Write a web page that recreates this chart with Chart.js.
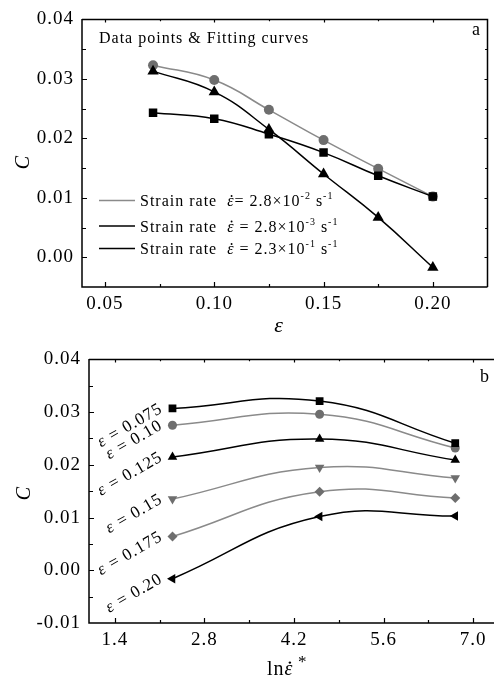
<!DOCTYPE html>
<html>
<head>
<meta charset="utf-8">
<script src="https://cdn.jsdelivr.net/npm/chart.js@4.4.1/dist/chart.umd.min.js"></script>
<style>
  html, body { margin: 0; padding: 0; background: #fff; }
  #wrap { position: relative; width: 494px; height: 680px; }
  .box { position: absolute; left: 0; width: 494px; height: 340px; }
  #boxA { top: 0; }
  #boxB { top: 340px; }
</style>
</head>
<body>
<div id="wrap">
  <div class="box" id="boxA"><canvas id="chartA"></canvas></div>
  <div class="box" id="boxB"><canvas id="chartB"></canvas></div>
</div>
<script>
// ---------- panel a : C against strain, one curve per strain rate ----------
const strainA = [0.072, 0.10, 0.125, 0.15, 0.175, 0.20];
const cRate28e3 = [0.0313, 0.0278, 0.0215, 0.0140, 0.0067, -0.0017]; // triangles
const cRate28e2 = [0.0323, 0.0298, 0.0248, 0.0197, 0.0149, 0.0102];  // circles
const cRate23e1 = [0.0243, 0.0233, 0.0207, 0.0176, 0.0137, 0.0102];  // squares
const xTicksA = [0.05, 0.10, 0.15, 0.20];
const xTickLabelsA = ['0.05', '0.10', '0.15', '0.20'];
const yTicksA = [0, 0.01, 0.02, 0.03, 0.04];
const yTickLabelsA = ['0.00', '0.01', '0.02', '0.03', '0.04'];
const legendRatesA = [['2.8×10', '-2'], ['2.8×10', '-3'], ['2.3×10', '-1']];

// ---------- panel b : C against ln(strain rate*), one curve per strain ----------
const lnRateB = [2.3, 4.6, 6.72];
const strainLabelsB = ['0.075', '0.10', '0.125', '0.15', '0.175', '0.20'];
const cEps075 = [0.0307, 0.0321, 0.0241];
const cEps100 = [0.0275, 0.0296, 0.0232];
const cEps125 = [0.0215, 0.0249, 0.0209];
const cEps150 = [0.0135, 0.0195, 0.0175];
const cEps175 = [0.0064, 0.0149, 0.0137];
const cEps200 = [-0.0016, 0.0102, 0.0103];
const xTicksB = [1.4, 2.8, 4.2, 5.6, 7.0];
const xTickLabelsB = ['1.4', '2.8', '4.2', '5.6', '7.0'];
const yTicksB = [-0.01, 0, 0.01, 0.02, 0.03, 0.04];
const yTickLabelsB = ['-0.01', '0.00', '0.01', '0.02', '0.03', '0.04'];

const SERIF = "'Liberation Serif', 'Times New Roman', serif";
const GRAY_LINE = '#8a8a8a';
const GRAY_MARK = '#6e6e6e';

// draw a run of text pieces (italic / superscript / dotted epsilon)
function drawRich(ctx, parts, x, y, size, align) {
  const fontOf = p => (p.it ? 'italic ' : '') + (p.sup ? Math.round(size * 0.62) : size) + 'px ' + SERIF;
  let total = 0;
  const widths = parts.map(p => {
    ctx.font = fontOf(p);
    const w = ctx.measureText(p.t).width;
    total += w;
    return w;
  });
  let cx = align === 'right' ? x - total : align === 'center' ? x - total / 2 : x;
  ctx.textAlign = 'left';
  ctx.textBaseline = 'alphabetic';
  parts.forEach((p, i) => {
    ctx.font = fontOf(p);
    ctx.fillText(p.t, cx, p.sup ? y - size * 0.42 : y);
    if (p.dot) {
      ctx.beginPath();
      ctx.arc(cx + widths[i] * 0.6, y - size * 0.62, size * 0.06, 0, Math.PI * 2);
      ctx.fill();
    }
    cx += widths[i];
  });
}

function minorOf(majors, min, max) {
  const step = majors[1] - majors[0];
  const out = [];
  for (let v = majors[0] - step / 2; v < max - 1e-9; v += step) {
    if (v > min + 1e-9) out.push(v);
  }
  return out;
}

function xy(xs, ys) {
  return xs.map((x, i) => ({ x: x, y: ys[i] }));
}

function series(label, xs, ys, line, mark, style, r, rot) {
  return {
    label: label,
    data: xy(xs, ys),
    borderColor: line,
    borderWidth: 1.5,
    backgroundColor: mark,
    pointBackgroundColor: mark,
    pointBorderColor: mark,
    pointBorderWidth: 0,
    pointStyle: style,
    pointRadius: r,
    pointRotation: rot || 0,
    tension: 0.45,
    fill: false
  };
}

// frame with inward ticks on every side, plus the panel's own texts
function framePlugin(cfg) {
  return {
    id: 'frame',
    beforeDraw(chart) {
      chart.ctx.letterSpacing = '1px';
    },
    afterDraw(chart) {
      const { ctx, chartArea: a, scales: { x, y } } = chart;
      ctx.save();
      ctx.letterSpacing = '1px';
      ctx.strokeStyle = '#000';
      ctx.fillStyle = '#000';
      ctx.lineWidth = 1.5;
      ctx.beginPath();
      ctx.moveTo(a.left, a.top - 0.5);
      ctx.lineTo(a.left, a.bottom);
      ctx.lineTo(cfg.right ? a.right : chart.width, a.bottom);
      ctx.moveTo(a.left, a.top);
      ctx.lineTo(cfg.right ? a.right : chart.width, a.top);
      if (cfg.right) ctx.lineTo(a.right, a.bottom);
      ctx.stroke();

      ctx.lineWidth = 1.2;
      ctx.beginPath();
      const tick = (vals, len) => {
        vals.forEach(v => {
          const px = Math.round(x.getPixelForValue(v)) + 0.5;
          if (px <= a.left + 1 || px >= a.right - 1) return;
          ctx.moveTo(px, a.bottom); ctx.lineTo(px, a.bottom - len);
          ctx.moveTo(px, a.top); ctx.lineTo(px, a.top + len * 0.6);
        });
      };
      const tickY = (vals, len) => {
        vals.forEach(v => {
          const py = Math.round(y.getPixelForValue(v)) + 0.5;
          if (py <= a.top + 1 || py >= a.bottom - 1) return;
          ctx.moveTo(a.left, py); ctx.lineTo(a.left + len, py);
          if (cfg.right) { ctx.moveTo(a.right, py); ctx.lineTo(a.right - len * 0.6, py); }
        });
      };
      tick(cfg.xMajor, 5);
      tick(minorOf(cfg.xMajor, x.min, x.max), 3);
      tickY(cfg.yMajor, 5);
      tickY(minorOf(cfg.yMajor, y.min, y.max), 4);
      ctx.stroke();

      cfg.texts(ctx, chart);
      ctx.restore();
    }
  };
}

function baseOptions(p) {
  return {
    responsive: true,
    maintainAspectRatio: false,
    animation: false,
    events: [],
    layout: { padding: { top: p.padTop, right: p.padRight, left: 0, bottom: 0 } },
    plugins: { legend: { display: false }, tooltip: { enabled: false } },
    scales: {
      x: {
        type: 'linear',
        min: p.xMin,
        max: p.xMax,
        grid: { display: false, drawTicks: false },
        border: { display: false },
        afterBuildTicks: s => { s.ticks = p.xTicks.map(v => ({ value: v })); },
        afterFit: s => { s.height = p.xHeight; },
        ticks: {
          autoSkip: false, maxRotation: 0, padding: 6, color: '#000',
          font: { family: SERIF, size: 19 },
          callback: (v, i) => p.xLabels[i]
        }
      },
      y: {
        type: 'linear',
        min: p.yMin,
        max: p.yMax,
        grid: { display: false, drawTicks: false },
        border: { display: false },
        afterBuildTicks: s => { s.ticks = p.yTicks.map(v => ({ value: v })); },
        afterFit: s => { s.width = p.yWidth; },
        ticks: {
          autoSkip: false, padding: 8, color: '#000',
          font: { family: SERIF, size: 19 },
          callback: (v, i) => p.yLabels[i]
        }
      }
    }
  };
}

// ---------- chart a ----------
new Chart(document.getElementById('chartA'), {
  type: 'line',
  data: {
    datasets: [
      series('2.8e-3', strainA, cRate28e3, '#000', '#000', 'triangle', 6.5),
      series('2.3e-1', strainA, cRate23e1, '#000', '#000', 'rect', 6),
      series('2.8e-2', strainA, cRate28e2, GRAY_LINE, GRAY_MARK, 'circle', 5)
    ]
  },
  options: baseOptions({
    xMin: 0.0395, xMax: 0.225, yMin: -0.005, yMax: 0.04,
    xTicks: xTicksA, xLabels: xTickLabelsA, yTicks: yTicksA, yLabels: yTickLabelsA,
    padTop: 16, padRight: 4, yWidth: 82, xHeight: 53
  }),
  plugins: [framePlugin({
    right: true, xMajor: xTicksA, yMajor: yTicksA,
    texts: (ctx) => {
      ctx.font = '16px ' + SERIF;
      ctx.textAlign = 'left';
      ctx.textBaseline = 'alphabetic';
      ctx.fillText('Data points & Fitting curves', 99, 43);
      ctx.font = '18px ' + SERIF;
      ctx.fillText('a', 472, 35);

      const rowY = [200.5, 226, 248.5];
      const rowColor = [GRAY_LINE, '#000', '#000'];
      legendRatesA.forEach((r, i) => {
        ctx.strokeStyle = rowColor[i];
        ctx.lineWidth = 1.5;
        ctx.beginPath();
        ctx.moveTo(99, rowY[i]);
        ctx.lineTo(135, rowY[i]);
        ctx.stroke();
        ctx.fillStyle = '#000';
        drawRich(ctx, [
          { t: 'Strain rate  ' },
          { t: 'ε', it: true, dot: true },
          { t: (i === 0 ? '= ' : ' = ') + r[0] },
          { t: r[1], sup: true },
          { t: ' s' },
          { t: '-1', sup: true }
        ], 140, rowY[i] + 5.5, 16, 'left');
      });

      ctx.save();
      ctx.translate(24, 162);
      ctx.rotate(-Math.PI / 2);
      ctx.font = 'italic 20px ' + SERIF;
      ctx.textAlign = 'center';
      ctx.textBaseline = 'middle';
      ctx.fillText('C', 0, 0);
      ctx.restore();

      ctx.font = 'italic 22px ' + SERIF;
      ctx.textAlign = 'center';
      ctx.fillText('ε', 279, 332);
    }
  })]
});

// ---------- chart b ----------
const seriesB = [
  series('0.075', lnRateB, cEps075, '#000', '#000', 'rect', 5.5),
  series('0.10', lnRateB, cEps100, GRAY_LINE, GRAY_MARK, 'circle', 4.5),
  series('0.125', lnRateB, cEps125, '#000', '#000', 'triangle', 5.5),
  series('0.15', lnRateB, cEps150, GRAY_LINE, GRAY_MARK, 'triangle', 5.5, 180),
  series('0.175', lnRateB, cEps175, GRAY_LINE, GRAY_MARK, 'rectRot', 5),
  series('0.20', lnRateB, cEps200, '#000', '#000', 'triangle', 5.5, 270)
];

new Chart(document.getElementById('chartB'), {
  type: 'line',
  data: { datasets: seriesB },
  options: baseOptions({
    xMin: 0.995, xMax: 7.24, yMin: -0.01, yMax: 0.04,
    xTicks: xTicksB, xLabels: xTickLabelsB, yTicks: yTicksB, yLabels: yTickLabelsB,
    padTop: 18, padRight: 0, yWidth: 89, xHeight: 57
  }),
  plugins: [framePlugin({
    right: false, xMajor: xTicksB, yMajor: yTicksB,
    texts: (ctx, chart) => {
      const { x, y } = chart.scales;
      ctx.font = '18px ' + SERIF;
      ctx.textAlign = 'left';
      ctx.fillText('b', 480, 42);

      // strain labels, slanted, ending just left of the first marker
      seriesB.forEach((ds, i) => {
        const p0 = ds.data[0];
        ctx.save();
        ctx.translate(x.getPixelForValue(p0.x) - 9, y.getPixelForValue(p0.y) + 3);
        ctx.rotate(-30 * Math.PI / 180);
        drawRich(ctx, [{ t: 'ε', it: true }, { t: ' = ' + strainLabelsB[i] }], 0, 0, 17, 'right');
        ctx.restore();
      });

      ctx.save();
      ctx.translate(25, 153);
      ctx.rotate(-Math.PI / 2);
      ctx.font = 'italic 20px ' + SERIF;
      ctx.textAlign = 'center';
      ctx.textBaseline = 'middle';
      ctx.fillText('C', 0, 0);
      ctx.restore();

      drawRich(ctx, [{ t: 'ln' }, { t: 'ε', it: true, dot: true }], 267, 335, 20, 'left');
      ctx.font = '17px ' + SERIF;
      ctx.textAlign = 'left';
      ctx.fillText('*', 298, 327);
    }
  })]
});
</script>
</body>
</html>
